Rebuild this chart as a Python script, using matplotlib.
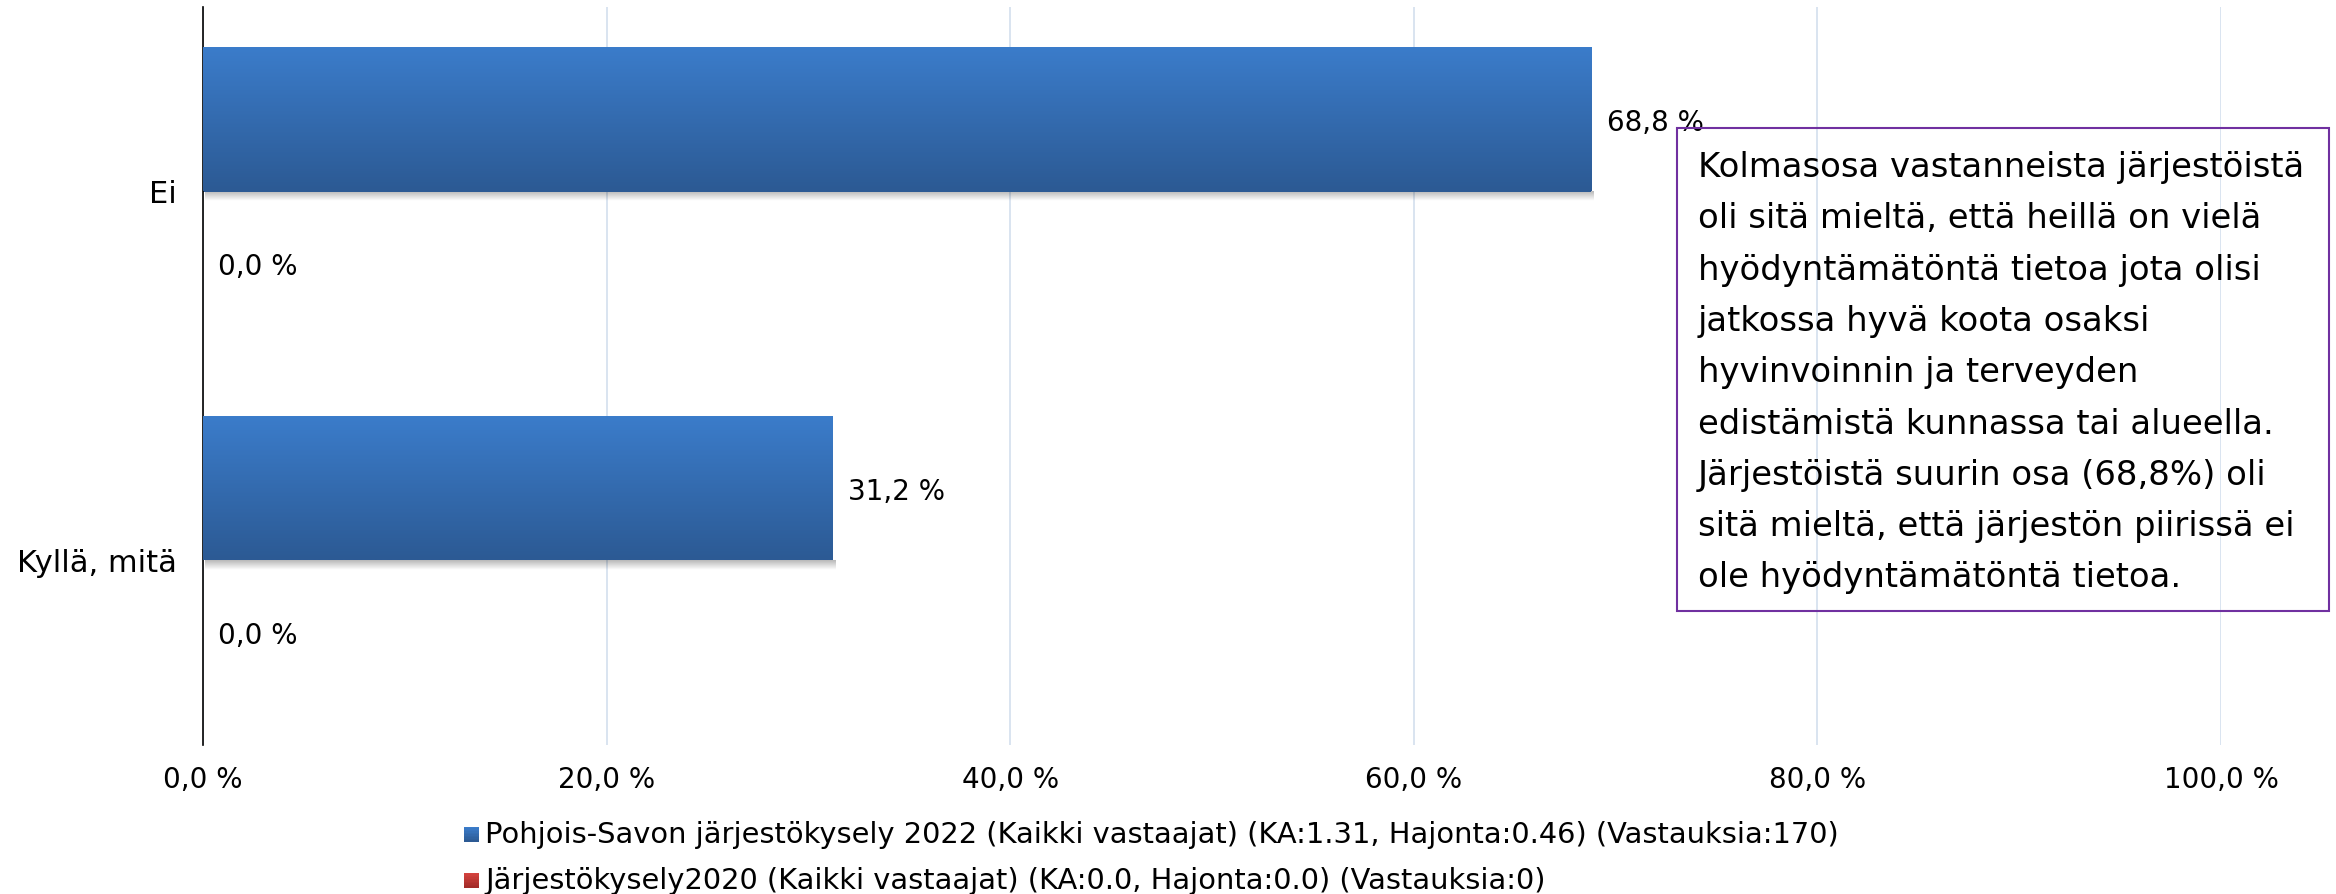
import numpy as np
import matplotlib
matplotlib.use('Agg')
import matplotlib.pyplot as plt
from matplotlib.patches import Rectangle
from matplotlib.colors import to_rgb

categories = ['Ei', 'Kyllä, mitä']
values_2022 = [68.8, 31.2]
values_2020 = [0.0, 0.0]
xticks = [0, 20, 40, 60, 80, 100]
xtick_labels = ['0,0 %', '20,0 %', '40,0 %', '60,0 %', '80,0 %', '100,0 %']
series_labels = [
    'Pohjois-Savon järjestökysely 2022 (Kaikki vastaajat) (KA:1.31, Hajonta:0.46) (Vastauksia:170)',
    'Järjestökysely2020 (Kaikki vastaajat) (KA:0.0, Hajonta:0.0) (Vastauksia:0)',
]
note_lines = [
    'Kolmasosa vastanneista järjestöistä',
    'oli sitä mieltä, että heillä on vielä',
    'hyödyntämätöntä tietoa jota olisi',
    'jatkossa hyvä koota osaksi',
    'hyvinvoinnin ja terveyden',
    'edistämistä kunnassa tai alueella.',
    'Järjestöistä suurin osa (68,8%) oli',
    'sitä mieltä, että järjestön piirissä ei',
    'ole hyödyntämätöntä tietoa.',
]

blue_top, blue_bot = '#3B7CCA', '#2C5A94'
red_top, red_bot = '#D4433F', '#A32B28'

W, H = 2336, 894
fig = plt.figure(figsize=(W / 100, H / 100), dpi=100)
ax = fig.add_axes([203 / W, 1 - 745 / H, (2221 - 203) / W, (745 - 7) / H])

y = np.arange(len(categories))
bh = 0.39
off = 0.195
bars1 = ax.barh(y - off, values_2022, height=bh, color=blue_bot, zorder=2)
bars2 = ax.barh(y + off, values_2020, height=bh, color=red_bot, zorder=2)


def grad(c1, c2, n=64):
    a, b = np.array(to_rgb(c1)), np.array(to_rgb(c2))
    t = np.linspace(0, 1, n)[:, None]
    return (a * (1 - t) + b * t)[:, None, :]


for bars, (ct, cb) in ((bars1, (blue_top, blue_bot)), (bars2, (red_top, red_bot))):
    for b in bars:
        x0, y0, w, h = b.get_x(), b.get_y(), b.get_width(), b.get_height()
        if w <= 0:
            continue
        ax.imshow(grad(ct, cb), extent=(x0, x0 + w, y0 + h, y0), aspect='auto',
                  origin='upper', zorder=3, interpolation='bilinear')
        # soft shadow below the bar
        n = 32
        sh = np.zeros((n, 1, 4))
        sh[:, 0, 3] = np.linspace(0.28, 0.0, n)
        ax.imshow(sh, extent=(x0 + 0.1, x0 + w + 0.12, y0 + h + 0.025, y0 + h), aspect='auto',
                  origin='upper', zorder=1.5, interpolation='bilinear')

ax.set_xlim(0, 100)
ax.set_ylim(1.5, -0.5)

for bars, vals, yy in ((bars1, values_2022, y - off), (bars2, values_2020, y + off)):
    for v, yc in zip(vals, yy):
        ax.annotate(f'{v:.1f} %'.replace('.', ','), xy=(v, yc), xytext=(11, -2.6),
                    textcoords='offset points', va='center', ha='left', fontsize=20,
                    color='#000000', zorder=5)

ax.set_xticks(xticks)
ax.set_xticklabels(xtick_labels, fontsize=20)
ax.set_yticks(y)
ax.set_yticklabels(categories, fontsize=22)
ax.tick_params(axis='x', length=0, pad=15)
ax.tick_params(axis='y', length=0, pad=19)
ax.xaxis.grid(True, color='#D3DFEE', lw=1.2)
ax.set_axisbelow(True)
for s in ('top', 'right', 'bottom'):
    ax.spines[s].set_visible(False)
ax.spines['left'].set_linewidth(1.2)
ax.spines['left'].set_color('#000000')

# note box
fig.add_artist(Rectangle((1677 / W, 1 - 611 / H), (2329 - 1677) / W, (611 - 128) / H,
                         transform=fig.transFigure, fill=False, edgecolor='#7030A0', lw=1.5,
                         zorder=10))
for i, line in enumerate(note_lines):
    fig.text(1698 / W, 1 - (177 + i * 51.3) / H, line, ha='left', va='baseline',
             fontsize=24.4, color='#000000')

# legend
for i, (lab, (ct, cb)) in enumerate(zip(series_labels, ((blue_top, blue_bot), (red_top, red_bot)))):
    top = [827, 873][i]
    size = 15
    nstrip = 10
    g = grad(ct, cb, nstrip)[:, 0, :]
    for k in range(nstrip):
        fig.add_artist(Rectangle((464 / W, 1 - (top + (k + 1) * size / nstrip) / H),
                                 size / W, (size / nstrip + 0.3) / H,
                                 transform=fig.transFigure, facecolor=g[k], edgecolor='none'))
    fig.text(485 / W, 1 - (top + 8) / H, lab, ha='left', va='center', fontsize=20.8,
             color='#000000')

fig.savefig('out.png', dpi=100)
